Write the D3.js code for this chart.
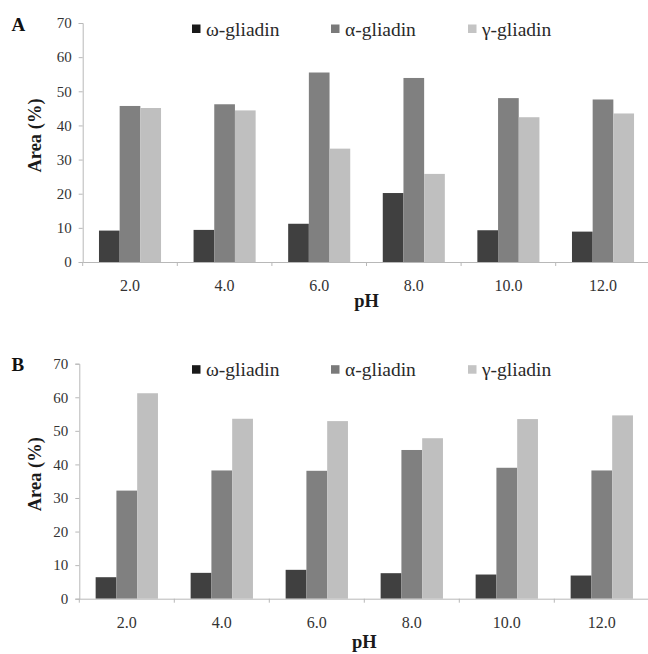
<!DOCTYPE html>
<html>
<head>
<meta charset="utf-8">
<script src="https://cdn.jsdelivr.net/npm/d3@7"></script>
<style>
  body { margin: 0; background: #fff; }
  svg { display: block; font-family: "Liberation Serif", "Times New Roman", serif; }
</style>
</head>
<body>
<div id="chart"></div>
<script>
// data
var categories = ["2.0", "4.0", "6.0", "8.0", "10.0", "12.0"];
var seriesNames = ["ω-gliadin", "α-gliadin", "γ-gliadin"];
var omegaA = [9.2, 9.4, 11.2, 20.2, 9.3, 8.9];
var alphaA = [45.7, 46.2, 55.5, 53.9, 48.0, 47.6];
var gammaA = [45.1, 44.4, 33.2, 25.8, 42.4, 43.5];
var omegaB = [6.4, 7.7, 8.6, 7.6, 7.2, 6.9];
var alphaB = [32.2, 38.2, 38.1, 44.3, 39.0, 38.2];
var gammaB = [61.2, 53.6, 52.9, 47.8, 53.5, 54.6];
var yTicks = [0, 10, 20, 30, 40, 50, 60, 70];

var colors = ["#404040", "#808080", "#bfbfbf"];
var legendColors = ["#1a1a1a", "#7a7a7a", "#c4c4c4"];

var width = 648, height = 654;
var svg = d3.select('#chart').append('svg')
    .attr('width', width)
    .attr('height', height);

var panels = [
    { name: "A", values: [omegaA, alphaA, gammaA], top: 23, bottom: 262, left: 82.7, right: 650.3, tickBase: 290.7, phBase: 306.7 },
    { name: "B", values: [omegaB, alphaB, gammaB], top: 363.7, bottom: 598.7, left: 79.3, right: 649.3, tickBase: 628.3, phBase: 648 }
];

panels.forEach(function (p) {
    var g = svg.append('g');

    var x0 = d3.scaleBand().domain(categories).range([p.left, p.right]);
    var bw = x0.bandwidth();
    var x1 = d3.scaleBand().domain(seriesNames).range([bw * 0.172, bw * 0.828]);
    var y = d3.scaleLinear().domain([0, 70]).range([p.bottom, p.top]);

    // bars
    seriesNames.forEach(function (s, si) {
        g.append('g').selectAll('rect')
            .data(p.values[si])
            .enter().append('rect')
            .attr('x', function (d, i) { return x0(categories[i]) + x1(s); })
            .attr('y', function (d) { return y(d); })
            .attr('width', x1.bandwidth())
            .attr('height', function (d) { return y(0) - y(d); })
            .style('fill', colors[si]);
    });

    // y axis
    var yAxis = g.append('g')
        .attr('transform', 'translate(' + p.left + ',0)')
        .call(d3.axisLeft(y).tickValues(yTicks).tickSize(4).tickPadding(7));
    yAxis.selectAll('line, path').attr('stroke', '#b8b8b8');
    yAxis.selectAll('text')
        .style('font-size', '15px')
        .style('font-family', '"Liberation Serif", serif')
        .attr('fill', '#333');

    // x axis: labels at band centres, ticks at band edges
    var xAxis = g.append('g')
        .attr('transform', 'translate(0,' + p.bottom + ')')
        .call(d3.axisBottom(x0).tickSize(0).tickSizeOuter(0));
    xAxis.select('path').attr('stroke', '#b8b8b8');
    xAxis.selectAll('text')
        .attr('y', p.tickBase - p.bottom)
        .attr('dy', 0)
        .style('font-size', '16px')
        .style('font-family', '"Liberation Serif", serif')
        .attr('fill', '#333');
    var edges = categories.map(function (c) { return x0(c); }).concat([p.right]);
    g.append('g').selectAll('line')
        .data(edges)
        .enter().append('line')
        .attr('x1', function (d) { return d; })
        .attr('x2', function (d) { return d; })
        .attr('y1', p.bottom)
        .attr('y2', p.bottom + 4)
        .attr('stroke', '#b8b8b8');

    // axis titles
    g.append('text')
        .attr('transform', 'translate(41,' + ((p.top + p.bottom) / 2 - 7) + ') rotate(-90)')
        .attr('text-anchor', 'middle')
        .style('font-size', '18.5px')
        .style('font-weight', 'bold')
        .attr('fill', '#1a1a1a')
        .text('Area (%)');
    g.append('text')
        .attr('x', (p.left + p.right) / 2)
        .attr('y', p.phBase)
        .attr('text-anchor', 'middle')
        .style('font-size', '18.5px')
        .style('font-weight', 'bold')
        .attr('fill', '#1a1a1a')
        .text('pH');

    // panel letter
    g.append('text')
        .attr('x', 11.5)
        .attr('y', p.top + 7.5)
        .style('font-size', '19px')
        .style('font-weight', 'bold')
        .attr('fill', '#111')
        .text(p.name);

    // legend
    var legendX = [192, 331, 468];
    var ly = p.top + 6;
    var leg = g.append('g').selectAll('g')
        .data(seriesNames)
        .enter().append('g')
        .attr('transform', function (d, i) { return 'translate(' + legendX[i] + ',' + ly + ')'; });
    leg.append('rect')
        .attr('x', 0).attr('y', -4.5)
        .attr('width', 8.5).attr('height', 8.5)
        .style('fill', function (d, i) { return legendColors[i]; });
    leg.append('text')
        .attr('x', 14)
        .attr('y', 6.5)
        .style('font-size', '19.5px')
        .attr('fill', '#2a2a2a')
        .text(function (d) { return d; });
});
</script>
</body>
</html>
